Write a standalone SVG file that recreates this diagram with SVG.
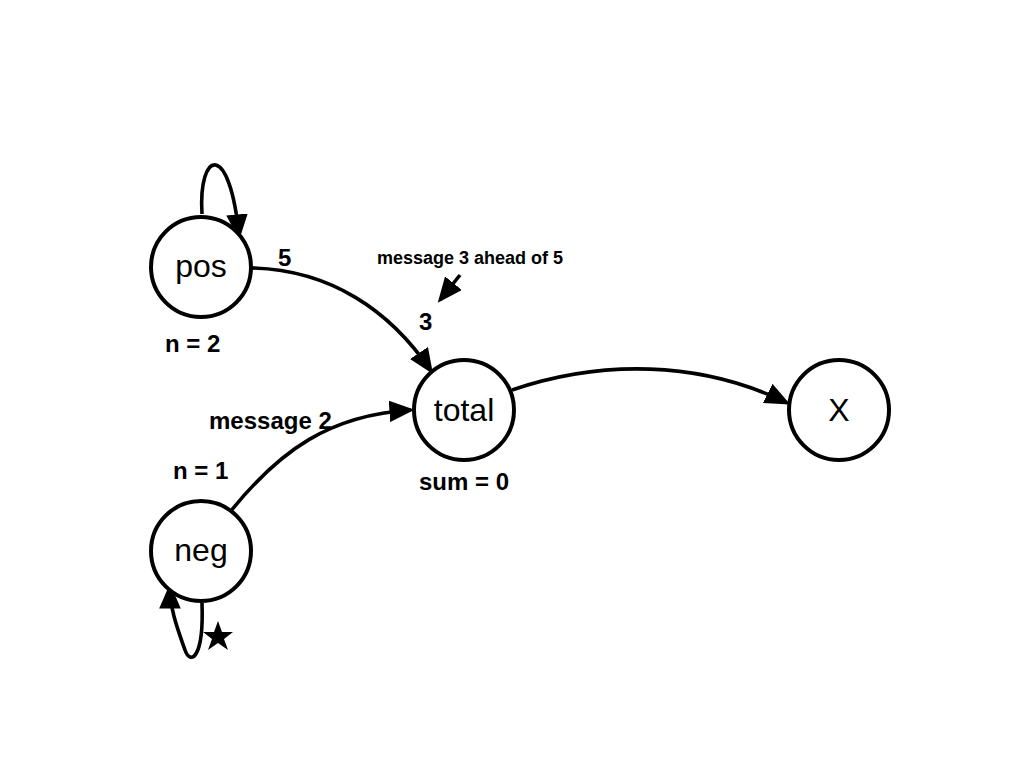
<svg xmlns="http://www.w3.org/2000/svg" width="1024" height="768" viewBox="0 0 1024 768">
<defs>
<style>
.node{fill:#fff;stroke:#000;stroke-width:4}
.nl{font-family:"Liberation Sans",Arial,sans-serif;font-size:32px;text-anchor:middle;fill:#000}
.lb{font-family:"Liberation Sans",Arial,sans-serif;font-weight:bold;font-size:24px;fill:#000}
.edge{fill:none;stroke:#000;stroke-width:3.6}
</style>
<marker id="ah" markerWidth="7" markerHeight="6" refX="6" refY="3" orient="auto" markerUnits="strokeWidth">
<path d="M0,0 L7,3 L0,6 Z" fill="#000"/>
</marker>
</defs>
<rect width="1024" height="768" fill="#fff"/>
<g id="connectors">
<path class="edge" d="M202,214 C198,150 230,140 239,236" marker-end="url(#ah)"/>
<path class="edge" d="M252,268 C330,270 390,310 431,371" marker-end="url(#ah)"/>
<path class="edge" d="M230,512 C280,450 330,415 411,410" marker-end="url(#ah)"/>
<path class="edge" d="M512,390 C600,360 700,360 787,403" marker-end="url(#ah)"/>
<path class="edge" d="M202,603 C204,660 190,665 185,650 C178,630 170,610 170,587" marker-end="url(#ah)"/>
<path class="edge" d="M460,275 L440,300" marker-end="url(#ah)"/>
</g>
<g id="pos"><circle class="node" cx="201" cy="267" r="50"/><text class="nl" x="201" y="277">pos</text></g>
<g id="neg"><circle class="node" cx="201" cy="551" r="50"/><text class="nl" x="201" y="561">neg</text></g>
<g id="total"><circle class="node" cx="464" cy="410" r="50"/><text class="nl" x="464" y="421">total</text></g>
<g id="X"><circle class="node" cx="839" cy="410" r="50"/><text class="nl" x="839" y="421">X</text></g>
<g id="labels">
<text class="lb" x="278" y="266">5</text>
<text class="lb" x="377" y="264" style="font-size:18px">message 3 ahead of 5</text>
<text class="lb" x="419" y="330">3</text>
<text class="lb" x="165" y="352">n = 2</text>
<text class="lb" x="209" y="429">message 2</text>
<text class="lb" x="173" y="479">n = 1</text>
<text class="lb" x="419" y="490">sum = 0</text>
<polygon points="218,621 222,632 233,632 224,639 228,650 218,643 208,650 212,639 203,632 214,632" fill="#000"/>
</g>
</svg>
